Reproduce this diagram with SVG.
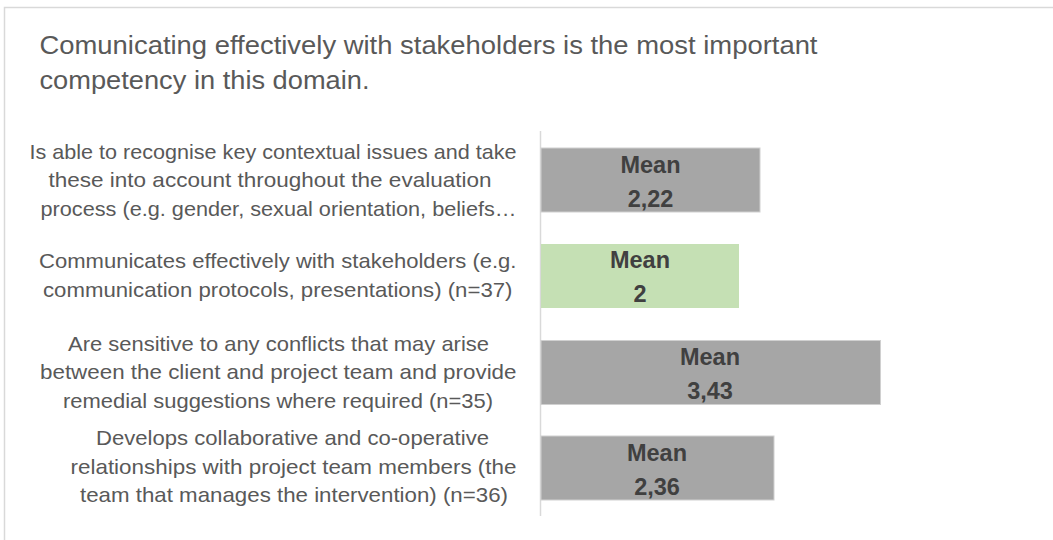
<svg xmlns="http://www.w3.org/2000/svg" width="1053" height="540" viewBox="0 0 1053 540">
<style>
.title{font-family:"Liberation Sans",Arial,sans-serif;font-size:26.5px;fill:#595959}
.lab{font-family:"Liberation Sans",Arial,sans-serif;font-size:21px;fill:#595959}
.val{font-family:"Liberation Sans",Arial,sans-serif;font-size:23.5px;font-weight:bold;fill:#404040;text-anchor:middle}
.gray{fill:#a6a6a6;stroke:#d0d0d0;stroke-width:1}
.green{fill:#c5e0b4}
</style>
<rect x="0" y="0" width="1053" height="540" fill="#ffffff"/>
<rect x="4.5" y="7.5" width="1070" height="560" fill="none" stroke="#d9d9d9" stroke-width="1.5"/>
<g id="title">
<text class="title" x="39.5" y="54" textLength="778" lengthAdjust="spacingAndGlyphs">Comunicating effectively with stakeholders is the most important</text>
<text class="title" x="39.5" y="89" textLength="330" lengthAdjust="spacingAndGlyphs">competency in this domain.</text>
</g>
<g id="axis">
<line x1="540.5" y1="131" x2="540.5" y2="516" stroke="#d9d9d9" stroke-width="1.5"/>
</g>
<g id="row1">
<text class="lab" x="29.5" y="158.5" textLength="487" lengthAdjust="spacingAndGlyphs">Is able to recognise key contextual issues and take</text>
<text class="lab" x="48.5" y="187" textLength="443" lengthAdjust="spacingAndGlyphs">these into account throughout the evaluation</text>
<text class="lab" x="40.5" y="215.5" textLength="476" lengthAdjust="spacingAndGlyphs">process (e.g. gender, sexual orientation, beliefs…</text>
<rect class="gray" x="541" y="148" width="219" height="64"/>
<text class="val" x="650.5" y="173">Mean</text>
<text class="val" x="650.5" y="207">2,22</text>
</g>
<g id="row2">
<text class="lab" x="39" y="268" textLength="477.5" lengthAdjust="spacingAndGlyphs">Communicates effectively with stakeholders (e.g.</text>
<text class="lab" x="43" y="296.5" textLength="469.5" lengthAdjust="spacingAndGlyphs">communication protocols, presentations) (n=37)</text>
<rect class="green" x="541" y="244" width="198" height="64"/>
<text class="val" x="640" y="268">Mean</text>
<text class="val" x="640" y="302">2</text>
</g>
<g id="row3">
<text class="lab" x="68" y="350.5" textLength="421" lengthAdjust="spacingAndGlyphs">Are sensitive to any conflicts that may arise</text>
<text class="lab" x="40" y="379" textLength="476.5" lengthAdjust="spacingAndGlyphs">between the client and project team and provide</text>
<text class="lab" x="63" y="408" textLength="430" lengthAdjust="spacingAndGlyphs">remedial suggestions where required (n=35)</text>
<rect class="gray" x="541" y="340.5" width="339.5" height="64"/>
<text class="val" x="710" y="365">Mean</text>
<text class="val" x="710" y="398.5">3,43</text>
</g>
<g id="row4">
<text class="lab" x="96" y="445" textLength="393" lengthAdjust="spacingAndGlyphs">Develops collaborative and co-operative</text>
<text class="lab" x="70.5" y="473.5" textLength="446" lengthAdjust="spacingAndGlyphs">relationships with project team members (the</text>
<text class="lab" x="80" y="502" textLength="428" lengthAdjust="spacingAndGlyphs">team that manages the intervention) (n=36)</text>
<rect class="gray" x="541" y="436" width="233" height="64"/>
<text class="val" x="657" y="461">Mean</text>
<text class="val" x="657" y="494.5">2,36</text>
</g>
</svg>
